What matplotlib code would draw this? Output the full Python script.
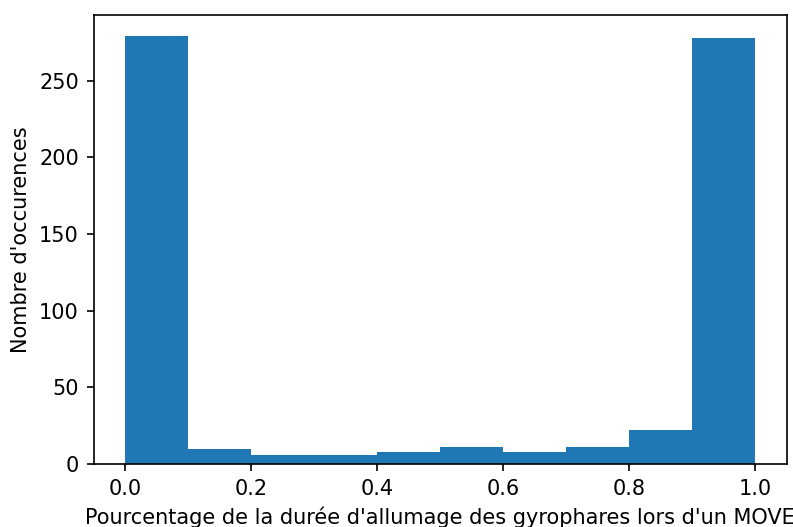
import matplotlib
matplotlib.use("Agg")
import matplotlib.pyplot as plt
import numpy as np

bin_edges = [0.0, 0.1, 0.2, 0.3, 0.4, 0.5, 0.6, 0.7, 0.8, 0.9, 1.0]
counts = [279, 10, 6, 6, 8, 11, 8, 11, 22, 278]
xlabel = "Pourcentage de la durée d'allumage des gyrophares lors d'un MOVE"
ylabel = "Nombre d'occurences"

s = 1.5
fig = plt.figure(figsize=(7.93, 5.27), dpi=100)
ax = fig.add_axes([93.5/793, 1 - 464/527, 693/793, 449.3/527])
centers = [(bin_edges[i] + bin_edges[i+1]) / 2 for i in range(len(counts))]
ax.hist(centers, bins=bin_edges, weights=counts, color="#1f77b4")
fs = 10 * s
ax.tick_params(labelsize=fs, length=3.5 * s, width=0.8 * s, pad=3.5 * s)
for sp in ax.spines.values():
    sp.set_linewidth(0.8 * s)
ax.set_xlabel(xlabel, fontsize=fs, labelpad=4 * s)
ax.set_ylabel(ylabel, fontsize=fs, labelpad=4 * s)
fig.savefig("out.png", dpi=100)
